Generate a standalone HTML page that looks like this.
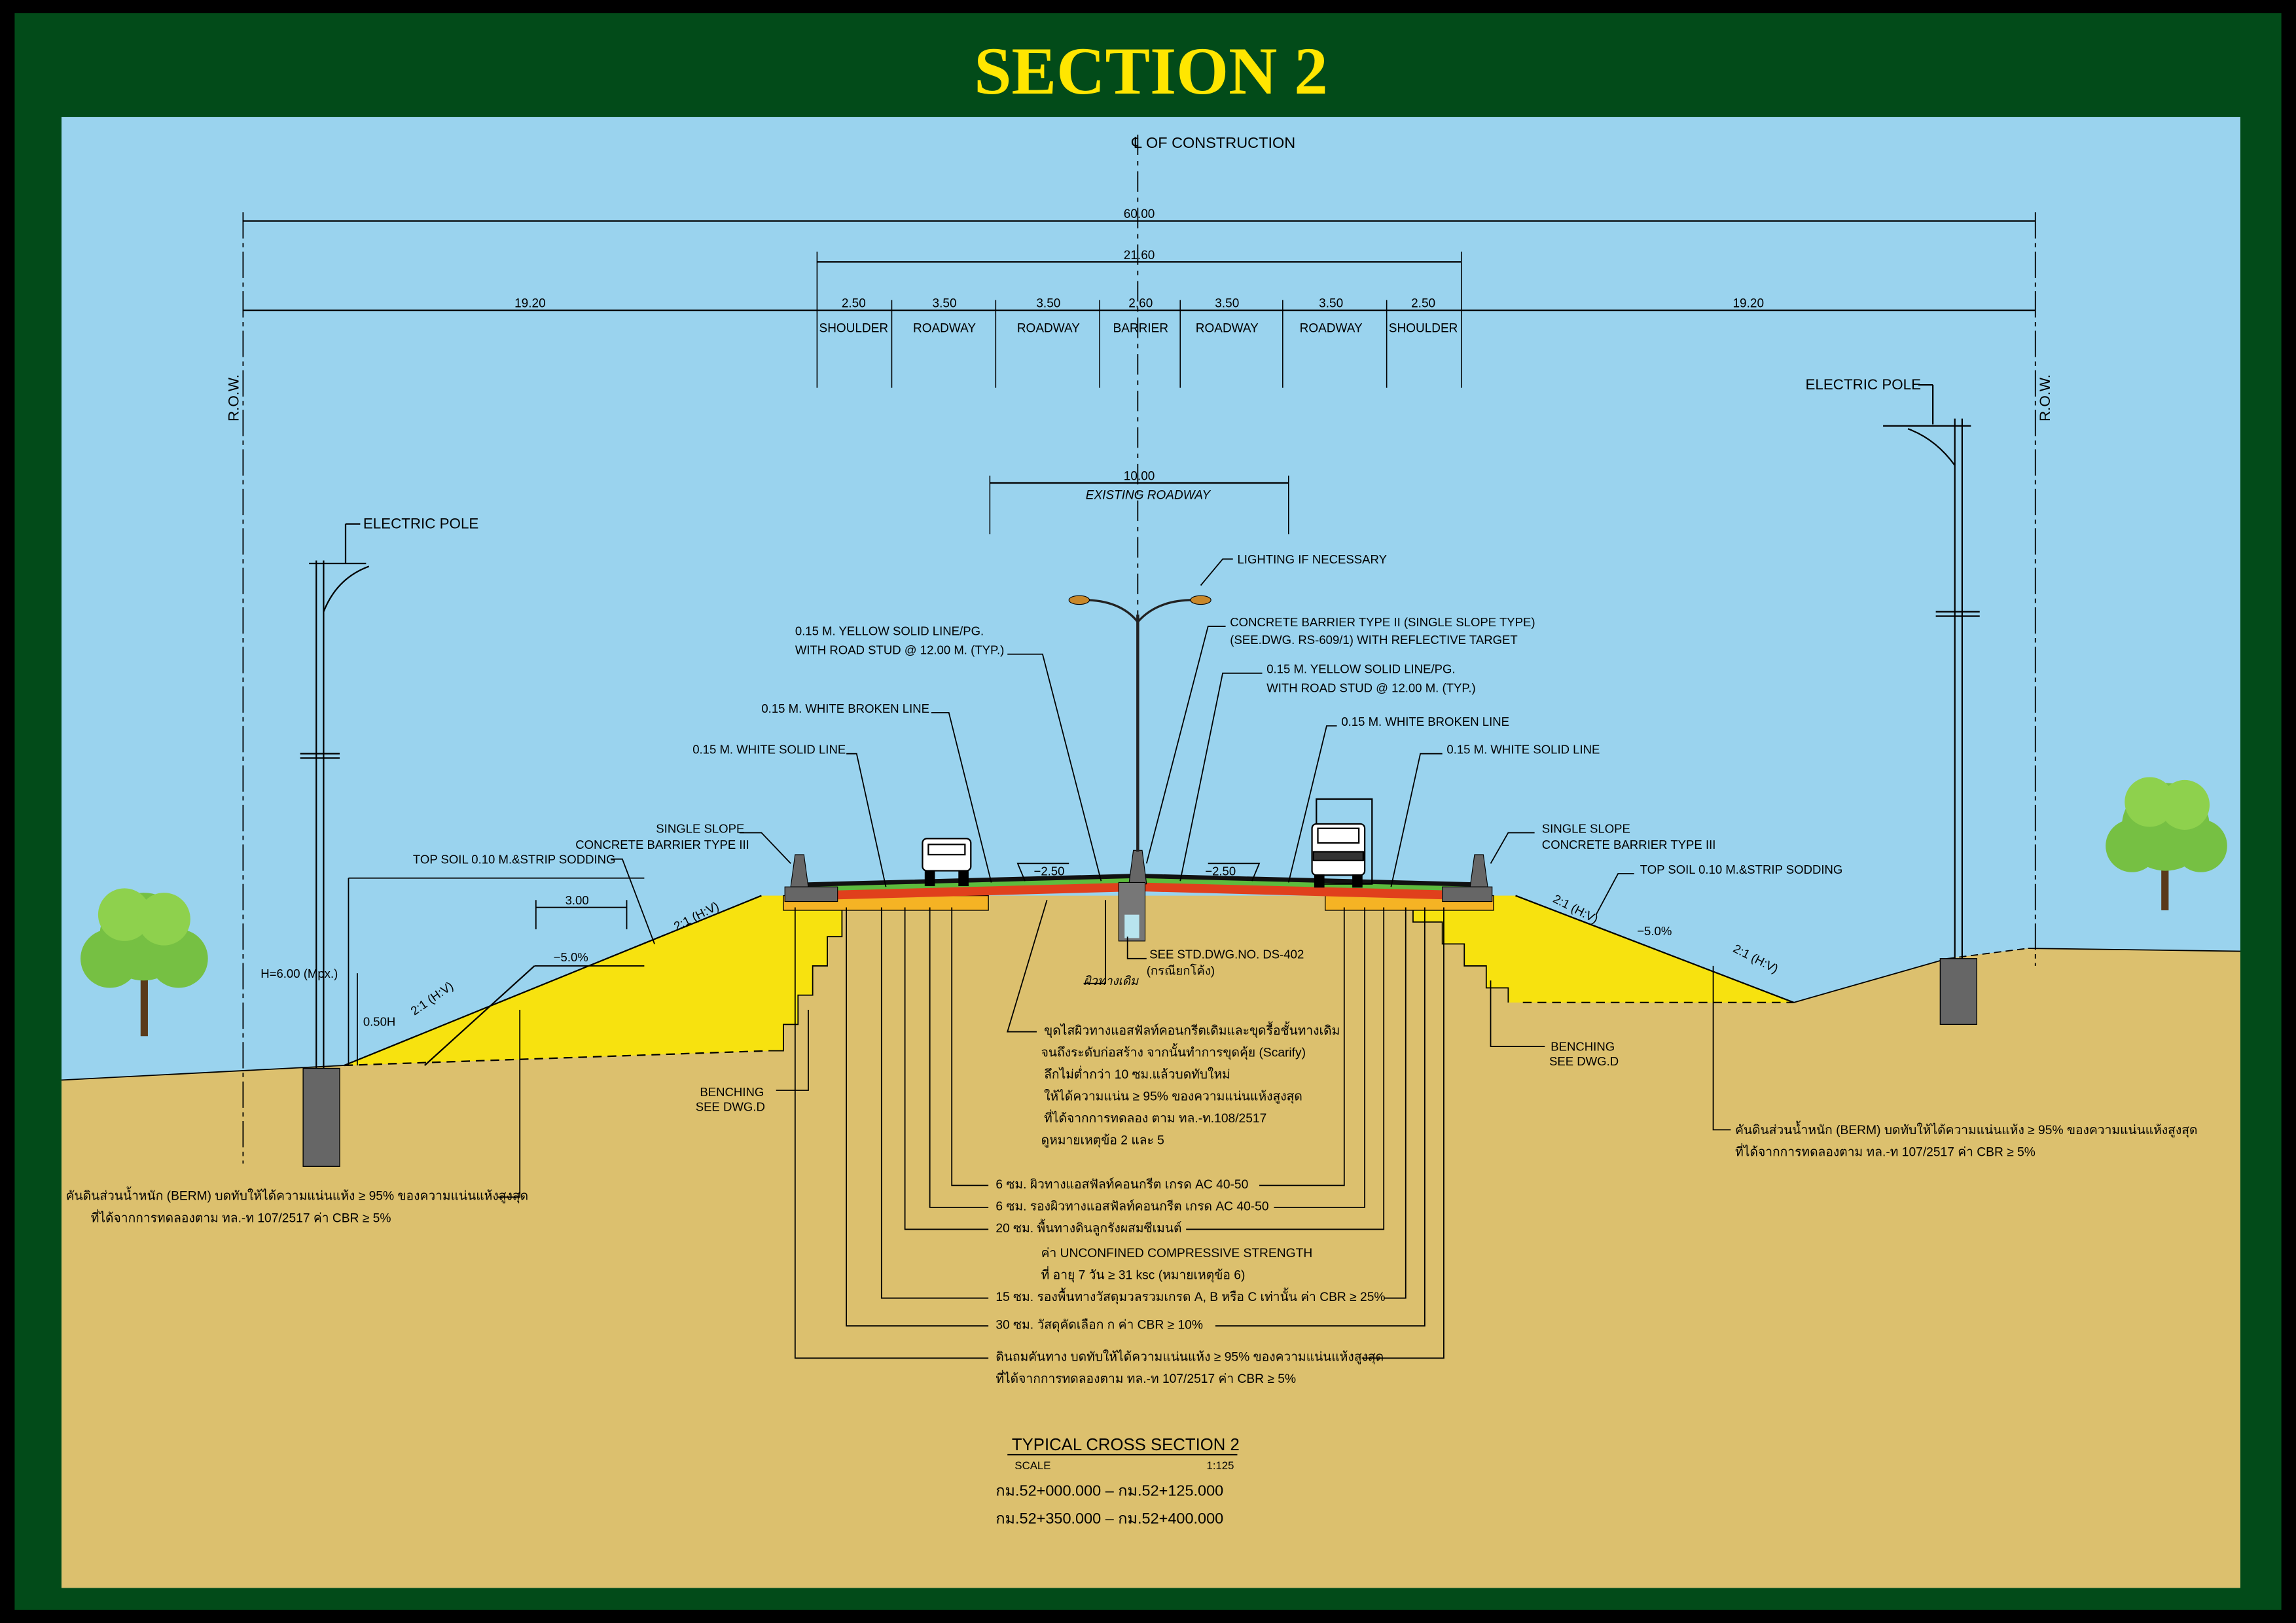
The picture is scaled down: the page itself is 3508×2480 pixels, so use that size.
<!DOCTYPE html>
<html><head><meta charset="utf-8"><style>
html,body{margin:0;padding:0;background:#000}
svg{display:block}
text{font-family:"Liberation Sans","Noto Sans CJK SC",sans-serif;fill:#000}
</style></head><body>
<svg width="3508" height="2480" viewBox="0 0 1568 1109" preserveAspectRatio="none" xmlns="http://www.w3.org/2000/svg">
<rect x="0" y="0" width="1568" height="1109" fill="#000"/>
<rect x="10" y="9" width="1548" height="1091" fill="#024b19"/>
<text x="786" y="64" text-anchor="middle" style="font-family:'Liberation Serif',serif;font-weight:bold;font-size:46px;fill:#ffe600">SECTION 2</text>
<!-- sky -->
<rect x="42" y="80" width="1488" height="1005" fill="#9ad3ee"/>
<!-- ground -->
<polygon points="42,738 235,728 520,612 1035,612 1225,685 1330,655 1385,648 1530,650 1530,1085 42,1085" fill="#dcc06e"/>
<!-- left embankment yellow -->
<polygon points="235,728 520,612 540,612 545,620 575,620 575,640 565,640 565,660 555,660 555,680 545,680 545,700 535,700 535,718 525,718" fill="#f7e20f"/>
<line x1="235" y1="728" x2="520" y2="612" stroke="#000" stroke-width="1"/>
<line x1="290" y1="728" x2="365" y2="660" stroke="#000" stroke-width="1"/>
<line x1="365" y1="660" x2="440" y2="660" stroke="#000" stroke-width="0.8"/>
<line x1="235" y1="728" x2="525" y2="718" stroke="#000" stroke-width="1" stroke-dasharray="6,4"/>
<polyline points="575,620 575,640 565,640 565,660 555,660 555,680 545,680 545,700 535,700 535,718 525,718" fill="none" stroke="#000" stroke-width="0.8"/>
<!-- right embankment -->
<polygon points="1035,612 1225,685 1040,685 1030,685 1030,675 1015,675 1015,660 1000,660 1000,645 985,645 985,630 965,630 965,620 930,620 1020,612" fill="#f7e20f"/>
<line x1="1035" y1="612" x2="1225" y2="685" stroke="#000" stroke-width="1"/>
<line x1="1040" y1="685" x2="1225" y2="685" stroke="#000" stroke-width="1" stroke-dasharray="6,4"/>
<line x1="1225" y1="685" x2="1330" y2="655" stroke="#000" stroke-width="0.8"/>
<line x1="1330" y1="655" x2="1385" y2="648" stroke="#000" stroke-width="0.8" stroke-dasharray="5,3"/>
<line x1="1385" y1="648" x2="1530" y2="650" stroke="#000" stroke-width="0.8"/>
<line x1="42" y1="738" x2="235" y2="728" stroke="#000" stroke-width="0.8"/>
<polyline points="965,620 965,630 985,630 985,645 1000,645 1000,660 1015,660 1015,675 1030,675 1030,685" fill="none" stroke="#000" stroke-width="0.8"/>
<!-- pavement -->
<polygon points="535,612 675,612 675,622 535,622" fill="#f5b324" stroke="#000" stroke-width="0.6"/>
<polygon points="905,612 1020,612 1020,622 905,622" fill="#f5b324" stroke="#000" stroke-width="0.6"/>
<polygon points="555,608 777,602 1005,608 1005,615 777,609 555,615" fill="#e0401c"/>
<polygon points="550,604 777,598 1010,604 1010,609 777,603 550,609" fill="#5dbb3d"/>
<polygon points="548,603 777,597 1012,603 1012,606 777,600 548,606" fill="#111"/>
<!-- barriers -->
<polygon points="540,606 543,584 549,584 552,606" fill="#666" stroke="#000" stroke-width="0.5"/>
<rect x="536" y="606" width="36" height="10" fill="#666" stroke="#000" stroke-width="0.5"/>
<polygon points="1004,606 1007,584 1013,584 1016,606" fill="#666" stroke="#000" stroke-width="0.5"/>
<rect x="985" y="606" width="34" height="10" fill="#666" stroke="#000" stroke-width="0.5"/>
<polygon points="771,604 774,581 780,581 783,604" fill="#666" stroke="#000" stroke-width="0.5"/>
<rect x="764" y="603" width="18" height="40" fill="#777" stroke="#000" stroke-width="0.5"/>
<rect x="768" y="625" width="10" height="16" fill="#b8e4ee"/>
<!-- light pole -->
<line x1="777" y1="420" x2="777" y2="582" stroke="#222" stroke-width="2"/>
<path d="M777,425 Q765,410 740,410" fill="none" stroke="#222" stroke-width="1.5"/>
<path d="M777,425 Q790,410 815,410" fill="none" stroke="#222" stroke-width="1.5"/>
<ellipse cx="737" cy="410" rx="7" ry="3" fill="#c9882a" stroke="#000" stroke-width="0.5"/>
<ellipse cx="820" cy="410" rx="7" ry="3" fill="#c9882a" stroke="#000" stroke-width="0.5"/>
<!-- car -->
<g fill="#fff" stroke="#000" stroke-width="1">
<rect x="630" y="573" width="33" height="22" rx="3"/>
<rect x="634" y="577" width="25" height="7"/>
<rect x="632" y="595" width="6" height="10" fill="#000"/><rect x="655" y="595" width="6" height="10" fill="#000"/>
<rect x="899" y="546" width="38" height="58" fill="none"/>
<rect x="896" y="563" width="36" height="35" rx="3"/>
<rect x="900" y="566" width="28" height="10"/>
<rect x="897" y="582" width="34" height="6" fill="#333"/>
<rect x="898" y="598" width="6" height="8" fill="#000"/><rect x="924" y="598" width="6" height="8" fill="#000"/>
</g>
<!-- centre line -->
<line x1="777" y1="92" x2="777" y2="420" stroke="#000" stroke-width="0.8" stroke-dasharray="14,4,3,4"/>
<text x="773" y="101" style="font-size:10.5px">℄ OF CONSTRUCTION</text>
<!-- dimensions -->
<g stroke="#000" stroke-width="1">
<line x1="166" y1="151" x2="1390" y2="151"/>
<line x1="558" y1="179" x2="998" y2="179"/>
<line x1="166" y1="212" x2="1390" y2="212"/>
<line x1="676" y1="330" x2="880" y2="330"/>
<line x1="676" y1="325" x2="676" y2="365" stroke-width="0.7"/>
<line x1="880" y1="325" x2="880" y2="365" stroke-width="0.7"/>
<g stroke-width="0.7">
<line x1="558" y1="172" x2="558" y2="265"/><line x1="609" y1="205" x2="609" y2="265"/><line x1="680" y1="205" x2="680" y2="265"/><line x1="751" y1="205" x2="751" y2="265"/><line x1="806" y1="205" x2="806" y2="265"/><line x1="876" y1="205" x2="876" y2="265"/><line x1="947" y1="205" x2="947" y2="265"/><line x1="998" y1="172" x2="998" y2="265"/>
</g>
<line x1="166" y1="145" x2="166" y2="795" stroke-width="0.8" stroke-dasharray="18,3,3,3"/>
<line x1="1390" y1="145" x2="1390" y2="660" stroke-width="0.8" stroke-dasharray="18,3,3,3"/>
</g>
<g style="font-size:8.5px" text-anchor="middle">
<text x="778" y="149">60.00</text><text x="778" y="177">21.60</text>
<text x="362" y="210">19.20</text><text x="583" y="210">2.50</text><text x="645" y="210">3.50</text><text x="716" y="210">3.50</text><text x="779" y="210">2.60</text><text x="838" y="210">3.50</text><text x="909" y="210">3.50</text><text x="972" y="210">2.50</text><text x="1194" y="210">19.20</text>
<text x="583" y="227">SHOULDER</text><text x="645" y="227">ROADWAY</text><text x="716" y="227">ROADWAY</text><text x="779" y="227">BARRIER</text><text x="838" y="227">ROADWAY</text><text x="909" y="227">ROADWAY</text><text x="972" y="227">SHOULDER</text>
<text x="778" y="328">10.00</text>
<text x="784" y="341" font-style="italic">EXISTING ROADWAY</text>
</g>
<text transform="translate(163,288) rotate(-90)" style="font-size:10px">R.O.W.</text>
<text transform="translate(1400,288) rotate(-90)" style="font-size:10px">R.O.W.</text>
<!-- electric poles -->
<g stroke="#000" stroke-width="1" fill="none">
<line x1="216" y1="383" x2="216" y2="740"/><line x1="221" y1="383" x2="221" y2="740"/>
<line x1="211" y1="385" x2="250" y2="385"/><path d="M221,418 Q230,395 252,387"/>
<line x1="236" y1="358" x2="246" y2="358"/><line x1="236" y1="358" x2="236" y2="385"/>
<line x1="205" y1="515" x2="232" y2="515"/><line x1="205" y1="518" x2="232" y2="518"/>
<line x1="1335" y1="286" x2="1335" y2="655"/><line x1="1340" y1="286" x2="1340" y2="655"/>
<line x1="1286" y1="291" x2="1346" y2="291"/><path d="M1335,318 Q1322,300 1303,293"/>
<line x1="1310" y1="263" x2="1320" y2="263"/><line x1="1320" y1="263" x2="1320" y2="290"/>
<line x1="1322" y1="418" x2="1352" y2="418"/><line x1="1322" y1="421" x2="1352" y2="421"/>
</g>
<rect x="207" y="730" width="25" height="67" fill="#666" stroke="#000" stroke-width="0.6"/>
<rect x="1325" y="655" width="25" height="45" fill="#666" stroke="#000" stroke-width="0.6"/>
<text x="248" y="361" style="font-size:10px">ELECTRIC POLE</text>
<text x="1233" y="266" style="font-size:10px">ELECTRIC POLE</text>
<!-- trees -->
<g>
<rect x="96" y="660" width="5" height="48" fill="#5a3a1a"/>
<circle cx="98" cy="640" r="30" fill="#76c043"/><circle cx="75" cy="655" r="20" fill="#76c043"/><circle cx="122" cy="655" r="20" fill="#76c043"/><circle cx="85" cy="625" r="18" fill="#8ed14d"/><circle cx="112" cy="628" r="18" fill="#8ed14d"/>
<rect x="1476" y="580" width="5" height="42" fill="#5a3a1a"/>
<circle cx="1479" cy="565" r="30" fill="#76c043"/><circle cx="1456" cy="578" r="18" fill="#76c043"/><circle cx="1503" cy="578" r="18" fill="#76c043"/><circle cx="1468" cy="548" r="17" fill="#8ed14d"/><circle cx="1492" cy="550" r="17" fill="#8ed14d"/>
</g>
<!-- leaders -->
<g stroke="#000" stroke-width="0.8" fill="none">
<polyline points="820,400 835,382 842,382"/>
<polyline points="837,428 825,428 783,590"/>
<polyline points="688,447 712,447 752,602"/>
<polyline points="862,460 835,460 806,602"/>
<polyline points="636,487 648,487 677,603"/>
<polyline points="913,496 906,496 880,603"/>
<polyline points="578,515 585,515 605,606"/>
<polyline points="985,515 970,515 950,606"/>
<polyline points="505,569 520,569 540,590"/>
<polyline points="1048,569 1030,569 1018,590"/>
<polyline points="417,587 425,587 447,645"/>
<polyline points="1116,597 1105,597 1090,625"/>
<polyline points="238,600 440,600"/>
<line x1="238" y1="600" x2="238" y2="728"/>
<line x1="244" y1="665" x2="244" y2="728"/>
<line x1="366" y1="620" x2="428" y2="620"/><line x1="366" y1="615" x2="366" y2="635"/><line x1="428" y1="615" x2="428" y2="635"/>
<polyline points="770,640 770,655 783,655"/>
<polyline points="755,615 755,672 740,672"/>
<polyline points="715,615 688,705 708,705"/>
<polyline points="552,690 552,745 530,745"/>
<polyline points="1018,670 1018,715 1055,715"/>
<polyline points="1170,660 1170,772 1182,772"/>
<polyline points="355,690 355,818 340,818"/>
<polyline points="543,620 543,928 675,928"/>
<polyline points="578,620 578,906 675,906"/>
<polyline points="602,620 602,887 675,887"/>
<polyline points="618,620 618,840 675,840"/>
<polyline points="635,620 635,825 675,825"/>
<polyline points="650,620 650,810 675,810"/>
<polyline points="918,620 918,810 860,810"/>
<polyline points="932,620 932,825 870,825"/>
<polyline points="945,620 945,840 810,840"/>
<polyline points="960,620 960,887 945,887"/>
<polyline points="973,620 973,906 830,906"/>
<polyline points="986,620 986,928 930,928"/>
<polyline points="700,602 695,590 730,590"/><polyline points="855,602 860,590 825,590"/>
</g>
<g style="font-size:8.3px">
<text x="845" y="385">LIGHTING IF NECESSARY</text>
<text x="840" y="428">CONCRETE BARRIER TYPE II (SINGLE SLOPE TYPE)</text>
<text x="840" y="440">(SEE.DWG. RS-609/1) WITH REFLECTIVE TARGET</text>
<text x="543" y="434">0.15 M. YELLOW SOLID LINE/PG.</text>
<text x="543" y="447">WITH ROAD STUD @ 12.00 M. (TYP.)</text>
<text x="865" y="460">0.15 M. YELLOW SOLID LINE/PG.</text>
<text x="865" y="473">WITH ROAD STUD @ 12.00 M. (TYP.)</text>
<text x="520" y="487">0.15 M. WHITE  BROKEN LINE</text>
<text x="916" y="496">0.15 M. WHITE BROKEN LINE</text>
<text x="473" y="515">0.15 M. WHITE SOLID LINE</text>
<text x="988" y="515">0.15 M. WHITE SOLID LINE</text>
<text x="448" y="569">SINGLE SLOPE</text>
<text x="393" y="580">CONCRETE BARRIER TYPE III</text>
<text x="1053" y="569">SINGLE SLOPE</text>
<text x="1053" y="580">CONCRETE BARRIER TYPE III</text>
<text x="282" y="590">TOP SOIL 0.10 M.&amp;STRIP SODDING</text>
<text x="1120" y="597">TOP SOIL 0.10 M.&amp;STRIP SODDING</text>
<text x="386" y="618">3.00</text>
<text x="378" y="657">−5.0%</text>
<text x="1118" y="639">−5.0%</text>
<text x="178" y="668">H=6.00 (Mpx.)</text>
<text x="248" y="701">0.50H</text>
<text x="706" y="598">−2.50</text>
<text x="823" y="598">−2.50</text>
<text x="785" y="655">SEE STD.DWG.NO. DS-402</text>
<text x="783" y="666">(กรณียกโค้ง)</text>
<text x="740" y="673" font-style="italic">ผิวทางเดิม</text>
<text x="478" y="749">BENCHING</text><text x="475" y="759">SEE DWG.D</text>
<text x="1059" y="718">BENCHING</text><text x="1058" y="728">SEE DWG.D</text>
<text transform="translate(462,636) rotate(-27)">2:1 (H:V)</text>
<text transform="translate(283,694) rotate(-35)">2:1 (H:V)</text>
<text transform="translate(1060,616) rotate(27)">2:1 (H:V)</text>
<text transform="translate(1183,650) rotate(27)">2:1 (H:V)</text>
</g>
<g style="font-size:8.6px">
<text x="45" y="820">คันดินส่วนน้ำหนัก (BERM) บดทับให้ได้ความแน่นแห้ง ≥ 95% ของความแน่นแห้งสูงสุด</text>
<text x="62" y="835">ที่ได้จากการทดลองตาม ทล.-ท 107/2517 ค่า CBR ≥ 5%</text>
<text x="1185" y="775">คันดินส่วนน้ำหนัก (BERM) บดทับให้ได้ความแน่นแห้ง ≥ 95% ของความแน่นแห้งสูงสุด</text>
<text x="1185" y="790">ที่ได้จากการทดลองตาม ทล.-ท 107/2517 ค่า CBR ≥ 5%</text>
<text x="713" y="707">ขุดไสผิวทางแอสฟัลท์คอนกรีตเดิมและขุดรื้อชั้นทางเดิม</text>
<text x="711" y="722">จนถึงระดับก่อสร้าง จากนั้นทำการขุดคุ้ย (Scarify)</text>
<text x="713" y="737">ลึกไม่ต่ำกว่า 10 ซม.แล้วบดทับใหม่</text>
<text x="713" y="752">ให้ได้ความแน่น ≥ 95% ของความแน่นแห้งสูงสุด</text>
<text x="713" y="767">ที่ได้จากการทดลอง ตาม ทล.-ท.108/2517</text>
<text x="711" y="782">ดูหมายเหตุข้อ 2 และ 5</text>
<text x="680" y="812">6 ซม. ผิวทางแอสฟัลท์คอนกรีต เกรด AC 40-50</text>
<text x="680" y="827">6 ซม. รองผิวทางแอสฟัลท์คอนกรีต เกรด AC 40-50</text>
<text x="680" y="842">20 ซม. พื้นทางดินลูกรังผสมซีเมนต์</text>
<text x="711" y="859">ค่า UNCONFINED COMPRESSIVE STRENGTH</text>
<text x="711" y="874">ที่ อายุ 7 วัน ≥ 31 ksc (หมายเหตุข้อ 6)</text>
<text x="680" y="889">15 ซม. รองพื้นทางวัสดุมวลรวมเกรด A, B หรือ C เท่านั้น ค่า CBR ≥ 25%</text>
<text x="680" y="908">30 ซม. วัสดุคัดเลือก ก ค่า CBR ≥ 10%</text>
<text x="680" y="930">ดินถมคันทาง บดทับให้ได้ความแน่นแห้ง ≥ 95% ของความแน่นแห้งสูงสุด</text>
<text x="680" y="945">ที่ได้จากการทดลองตาม ทล.-ท 107/2517 ค่า CBR ≥ 5%</text>
</g>
<text x="691" y="991" style="font-size:11.5px">TYPICAL CROSS SECTION 2</text>
<line x1="688" y1="994" x2="845" y2="994" stroke="#000" stroke-width="0.8"/>
<text x="693" y="1004" style="font-size:7.5px">SCALE</text>
<text x="824" y="1004" style="font-size:7.5px">1:125</text>
<text x="680" y="1022" style="font-size:10.5px">กม.52+000.000 – กม.52+125.000</text>
<text x="680" y="1041" style="font-size:10.5px">กม.52+350.000 – กม.52+400.000</text>
</svg>
</body></html>
